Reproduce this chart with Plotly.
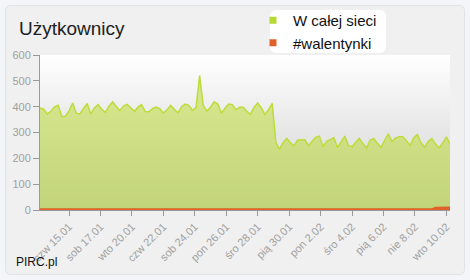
import base64
import pandas as pd
import plotly.graph_objects as go

# ---------------- data ----------------
start_time = "2015-01-13 18:00"
step = "6h"
w_calej_sieci = [
    395, 390, 372, 382, 399, 405, 362, 363, 384, 414,
    375, 372, 393, 412, 372, 395, 408, 390, 378, 402,
    418, 400, 384, 402, 409, 396, 382, 398, 408, 381,
    380, 392, 398, 392, 375, 388, 405, 390, 376, 400,
    410, 405, 386, 396, 520, 405, 383, 398, 419, 410,
    375, 394, 410, 408, 388, 398, 398, 382, 370, 398,
    414, 395, 369, 389, 413, 262, 235, 262, 277, 260,
    248, 271, 272, 272, 250, 266, 282, 286, 245, 266,
    273, 280, 242, 264, 286, 250, 245, 262, 277, 258,
    240, 271, 276, 258, 243, 270, 295, 265, 279, 284,
    284, 268, 250, 280, 292, 260, 243, 265, 276, 255,
    240, 260, 283, 256,
]
walentynki = [0] * 109 + [6, 7, 7, 7, 7]
times = pd.date_range(start_time, periods=len(w_calej_sieci), freq=step)

tick_times = [
    "2015-01-15 18:00", "2015-01-17 22:00", "2015-01-20 02:00", "2015-01-22 06:00",
    "2015-01-24 10:00", "2015-01-26 14:00", "2015-01-28 18:00", "2015-01-30 22:00",
    "2015-02-02 02:00", "2015-02-04 06:00", "2015-02-06 10:00", "2015-02-08 14:00",
    "2015-02-10 18:00",
]
tick_labels = [
    "czw 15.01", "sob 17.01", "wto 20.01", "czw 22.01", "sob 24.01", "pon 26.01",
    "śro 28.01", "pią 30.01", "pon 2.02", "śro 4.02", "pią 6.02", "nie 8.02", "wto 10.02",
]
series_names = ["W całej sieci", "#walentynki"]
y_ticks = [0, 100, 200, 300, 400, 500, 600]

# ---------------- layout geometry ----------------
W, H = 470, 280
L, R, T, B = 40, 20, 55, 70
PW, PH = W - L - R, H - T - B


def px_x(x):
    return (x - L) / PW


def px_y(y):
    return (H - B - y) / PH


FONT = "Liberation Sans, Arial, sans-serif"
GREEN = "#bddc3b"
ORANGE = "#e0622a"

svg = f'''<svg xmlns="http://www.w3.org/2000/svg" width="{W}" height="{H}" viewBox="0 0 {W} {H}">
<defs><linearGradient id="g" x1="0" y1="0" x2="0" y2="1">
<stop offset="0" stop-color="#ffffff"/><stop offset="0.5" stop-color="#e6e6e6"/><stop offset="1" stop-color="#dedede"/>
</linearGradient></defs>
<rect width="{W}" height="{H}" fill="#f4f5f9"/>
<rect x="5.5" y="5.5" width="459" height="269" rx="5" fill="#f0f0f0" stroke="#e2e3e6"/>
<rect x="{L}" y="{T}" width="{PW}" height="{PH}" fill="url(#g)"/>
<rect x="270" y="10" width="116" height="43" rx="6" fill="#ffffff"/>
</svg>'''
svg_uri = "data:image/svg+xml;base64," + base64.b64encode(svg.encode("utf-8")).decode()

fig = go.Figure()
fig.add_trace(go.Scatter(
    x=times, y=w_calej_sieci, mode="lines", name=series_names[0],
    line=dict(color=GREEN, width=1.5),
    fill="tozeroy",
    fillgradient=dict(type="vertical", colorscale=[[0, "#c2d47a"], [1, "#d8e98f"]]),
    showlegend=False, hoverinfo="skip",
))
fig.add_trace(go.Scatter(
    x=times, y=walentynki, mode="lines", name=series_names[1],
    line=dict(color=ORANGE, width=3.5),
    showlegend=False, hoverinfo="skip",
))
# legend entries with square markers
fig.add_trace(go.Scatter(x=[None], y=[None], mode="markers", name=series_names[0],
                         marker=dict(symbol="square", size=7, color="#b5d935")))
fig.add_trace(go.Scatter(x=[None], y=[None], mode="markers", name=series_names[1],
                         marker=dict(symbol="square", size=7, color=ORANGE)))

fig.update_layout(
    width=W, height=H,
    margin=dict(l=L, r=R, t=T, b=B, autoexpand=False),
    paper_bgcolor="#f4f5f9",
    plot_bgcolor="rgba(0,0,0,0)",
    font=dict(family=FONT),
    showlegend=True,
    legend=dict(x=px_x(253), y=px_y(4), xanchor="left", yanchor="top",
                bgcolor="rgba(0,0,0,0)", font=dict(size=15, color="#111111"),
                tracegroupgap=0, itemwidth=30),
    images=[dict(source=svg_uri, xref="paper", yref="paper",
                 x=px_x(0), y=px_y(0), sizex=W / PW, sizey=H / PH,
                 xanchor="left", yanchor="top", sizing="stretch", layer="below")],
    annotations=[
        dict(text="Użytkownicy", xref="paper", yref="paper", x=px_x(17), y=px_y(28),
             xanchor="left", yanchor="middle", showarrow=False,
             font=dict(size=19, color="#222222", family=FONT)),
        dict(text="PIRC.pl", xref="paper", yref="paper", x=px_x(14), y=px_y(262),
             xanchor="left", yanchor="middle", showarrow=False,
             font=dict(size=12, color="#111111", family=FONT)),
    ],
)
fig.update_xaxes(
    type="date", range=[times[0], times[-1]],
    tickvals=tick_times, ticktext=tick_labels, tickangle=-45,
    ticks="outside", ticklen=5, tickcolor="#999999",
    showline=True, linecolor="#999999", linewidth=1,
    showgrid=False, zeroline=False, layer="below traces",
    tickfont=dict(size=11, color="#a0a0a0"),
)
fig.update_yaxes(
    range=[0, 600], tickvals=y_ticks,
    ticks="outside", ticklen=6, tickcolor="#999999",
    showline=True, linecolor="#999999", linewidth=1,
    showgrid=False, zeroline=False, layer="below traces",
    tickfont=dict(size=11, color="#a0a0a0"),
)

fig.write_html("out.html", config={"displayModeBar": False})
